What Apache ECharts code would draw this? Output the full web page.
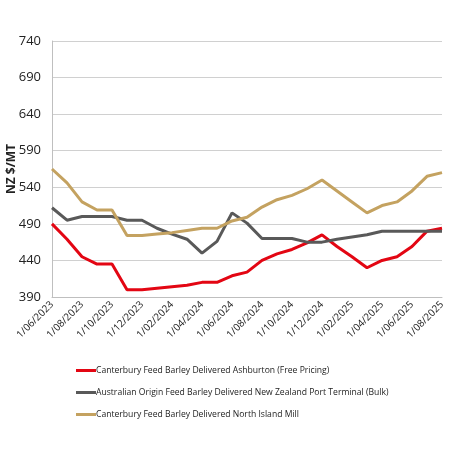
<!DOCTYPE html>
<html>
<head>
	<meta charset="utf-8">
	<title>Feed barley prices</title>
	<script src="https://cdn.jsdelivr.net/npm/echarts@6/dist/echarts.min.js"></script>
	<style>
		html, body { margin: 0; padding: 0; background: #fff; }
	</style>
</head>
<body>
	<div id="main" style="width:450px;height:450px"></div>
	<script type="text/javascript">
var months = ['1/06/2023','1/07/2023','1/08/2023','1/09/2023','1/10/2023','1/11/2023','1/12/2023',
    '1/01/2024','1/02/2024','1/03/2024','1/04/2024','1/05/2024','1/06/2024','1/07/2024','1/08/2024',
    '1/09/2024','1/10/2024','1/11/2024','1/12/2024','1/01/2025','1/02/2025','1/03/2025','1/04/2025',
    '1/05/2025','1/06/2025','1/07/2025','1/08/2025'];

var ashburton = [490, 469, 445, 435, 435, 400, 400, 402, 404, 406, 410, 410, 419, 424, 440,
    449, 455, 464, 475, 459, 445, 430, 440, 445, 459, 480, 484];
var ausOrigin = [512, 495, 500, 500, 500, 495, 495, 484, 476, 469, 450, 466, 505, 491, 470,
    470, 470, 465, 465, 469, 472, 475, 480, 480, 480, 480, 480];
var northIsland = [565, 546, 520, 509, 509, 474, 474, 476, 478, 481, 484, 484, 494, 499, 513,
    523, 529, 538, 550, 535, 520, 505, 515, 520, 535, 555, 560];

var seriesNames = ['Canterbury Feed Barley Delivered Ashburton (Free Pricing)',
    'Australian Origin Feed Barley Delivered New Zealand Port Terminal (Bulk)',
    'Canterbury Feed Barley Delivered North Island Mill'];
var seriesColors = ['#e30613', '#595959', '#c4a260'];

var myChart = echarts.init(document.getElementById('main'));

var font = '"Open Sans", sans-serif';

var option = {
    animation: false,
    textStyle: { fontFamily: font },
    grid: { left: 52, right: 8, top: 41, bottom: 153, outerBoundsMode: 'none', containLabel: false },
    legend: {
        orient: 'vertical',
        left: 71,
        top: 361,
        itemGap: 13,
        itemWidth: 20,
        itemHeight: 3,
        icon: 'rect',
        textStyle: { fontSize: 8.6, color: '#222', fontFamily: font, padding: [0, 0, 0, -5] },
        data: seriesNames
    },
    xAxis: {
        type: 'category',
        boundaryGap: false,
        data: months,
        axisLine: { lineStyle: { color: '#bfbfbf', width: 1 } },
        axisTick: { show: false },
        axisLabel: { interval: 1, rotate: 45, fontSize: 10, color: '#222', margin: 6 },
        splitLine: { show: false }
    },
    yAxis: {
        type: 'value',
        min: 390,
        max: 740,
        interval: 50,
        name: 'NZ $/MT',
        nameLocation: 'middle',
        nameGap: 34,
        nameMoveOverlap: false,
        nameTextStyle: { fontWeight: 'bold', fontSize: 12, color: '#222' },
        axisLine: { show: true, lineStyle: { color: '#bfbfbf', width: 1 } },
        axisTick: { show: false },
        axisLabel: { fontSize: 13, color: '#222', margin: 11 },
        splitLine: { lineStyle: { color: '#d0d0d0', width: 1 } }
    },
    series: [
        { name: seriesNames[0], type: 'line', data: ashburton, symbol: 'none',
          lineStyle: { width: 3, color: seriesColors[0] }, itemStyle: { color: seriesColors[0] } },
        { name: seriesNames[1], type: 'line', data: ausOrigin, symbol: 'none',
          lineStyle: { width: 3, color: seriesColors[1] }, itemStyle: { color: seriesColors[1] } },
        { name: seriesNames[2], type: 'line', data: northIsland, symbol: 'none',
          lineStyle: { width: 3, color: seriesColors[2] }, itemStyle: { color: seriesColors[2] } }
    ]
};

myChart.setOption(option);
	</script>
</body>
</html>
